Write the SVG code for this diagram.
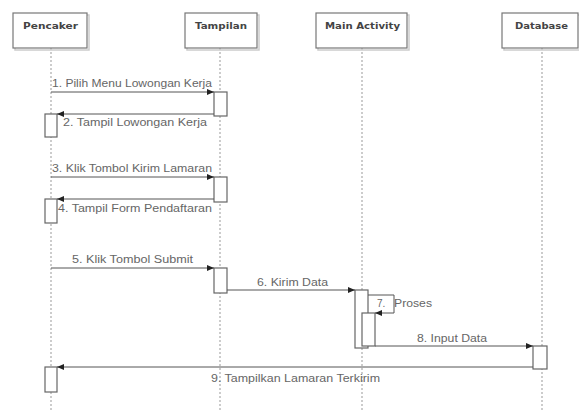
<svg xmlns="http://www.w3.org/2000/svg" width="579" height="414" viewBox="0 0 579 414">
<style>
.box{fill:#fff;stroke:#777;stroke-width:1.2}
.shadow{fill:none;stroke:#ccc;stroke-width:1.5}
.title{font-family:"DejaVu Sans","Liberation Sans",sans-serif;font-size:9.5px;font-weight:bold;fill:#444}
.life{stroke:#999;stroke-width:1;stroke-dasharray:2,2}
.act{fill:#fff;stroke:#666;stroke-width:1.2}
.msg{stroke:#555;stroke-width:1;fill:none}
.lbl{font-family:"Liberation Sans",Arial,sans-serif;font-size:10px;fill:#666}
</style>
<defs>
<marker id="ah" markerWidth="8" markerHeight="8" refX="7" refY="3" orient="auto" markerUnits="userSpaceOnUse">
<path d="M0,0 L7,3 L0,6 Z" fill="#222"/>
</marker>
</defs>
<rect width="579" height="414" fill="#fff"/>

<g id="lifelines">
<line class="life" x1="51" y1="48" x2="51" y2="412"/>
<line class="life" x1="220" y1="48" x2="220" y2="412"/>
<line class="life" x1="362" y1="48" x2="362" y2="412"/>
<line class="life" x1="542" y1="48" x2="542" y2="412"/>
</g>

<g id="pencaker">
<rect class="shadow" x="15" y="15" width="74" height="35"/>
<rect class="box" x="13" y="13" width="74" height="35"/>
<text class="title" x="23" y="29" textLength="55" lengthAdjust="spacingAndGlyphs">Pencaker</text>
</g>
<g id="tampilan">
<rect class="shadow" x="187" y="15" width="72" height="35"/>
<rect class="box" x="185" y="13" width="72" height="35"/>
<text class="title" x="195" y="29" textLength="52" lengthAdjust="spacingAndGlyphs">Tampilan</text>
</g>
<g id="main-activity">
<rect class="shadow" x="318" y="15" width="91" height="35"/>
<rect class="box" x="316" y="13" width="91" height="35"/>
<text class="title" x="325" y="29" textLength="75" lengthAdjust="spacingAndGlyphs">Main Activity</text>
</g>
<g id="database">
<rect class="shadow" x="504" y="15" width="76" height="35"/>
<rect class="box" x="502" y="13" width="76" height="35"/>
<text class="title" x="515" y="29" textLength="53" lengthAdjust="spacingAndGlyphs">Database</text>
</g>

<g id="activations">
<rect class="act" x="214" y="92" width="13" height="24"/>
<rect class="act" x="45" y="114" width="12" height="23"/>
<rect class="act" x="214" y="177" width="13" height="25"/>
<rect class="act" x="45" y="199" width="12" height="24"/>
<rect class="act" x="214" y="268" width="13" height="25"/>
<rect class="act" x="355" y="290" width="13" height="58"/>
<rect class="act" x="362" y="313" width="13" height="33"/>
<rect class="act" x="533" y="346" width="14" height="23"/>
<rect class="act" x="45" y="367" width="12" height="25"/>
</g>

<g id="connectors">
<line class="msg" x1="51" y1="92" x2="214" y2="92" marker-end="url(#ah)"/>
<line class="msg" x1="214" y1="114" x2="57" y2="114" marker-end="url(#ah)"/>
<line class="msg" x1="51" y1="177" x2="214" y2="177" marker-end="url(#ah)"/>
<line class="msg" x1="214" y1="199" x2="57" y2="199" marker-end="url(#ah)"/>
<line class="msg" x1="51" y1="268" x2="214" y2="268" marker-end="url(#ah)"/>
<line class="msg" x1="227" y1="290" x2="355" y2="290" marker-end="url(#ah)"/>
<polyline class="msg" points="368,295 394,295 394,313 375,313" marker-end="url(#ah)"/>
<line class="msg" x1="375" y1="346" x2="533" y2="346" marker-end="url(#ah)"/>
<line class="msg" x1="533" y1="367" x2="57" y2="367" marker-end="url(#ah)"/>
</g>

<g id="labels">
<text class="lbl" x="52" y="87" textLength="160" lengthAdjust="spacingAndGlyphs">1. Pilih Menu Lowongan Kerja</text>
<text class="lbl" x="63" y="126" textLength="144" lengthAdjust="spacingAndGlyphs">2. Tampil Lowongan Kerja</text>
<text class="lbl" x="52" y="172" textLength="160" lengthAdjust="spacingAndGlyphs">3. Klik Tombol Kirim Lamaran</text>
<text class="lbl" x="58" y="212" textLength="154" lengthAdjust="spacingAndGlyphs">4. Tampil Form Pendaftaran</text>
<text class="lbl" x="72" y="263" textLength="121" lengthAdjust="spacingAndGlyphs">5. Klik Tombol Submit</text>
<text class="lbl" x="257" y="286" textLength="71" lengthAdjust="spacingAndGlyphs">6. Kirim Data</text>
<text class="lbl" x="377" y="307">7.</text>
<text class="lbl" x="394" y="307" textLength="38" lengthAdjust="spacingAndGlyphs">Proses</text>
<text class="lbl" x="417" y="342" textLength="70" lengthAdjust="spacingAndGlyphs">8. Input Data</text>
<text class="lbl" x="211" y="382" textLength="169" lengthAdjust="spacingAndGlyphs">9. Tampilkan Lamaran Terkirim</text>
</g>
</svg>
